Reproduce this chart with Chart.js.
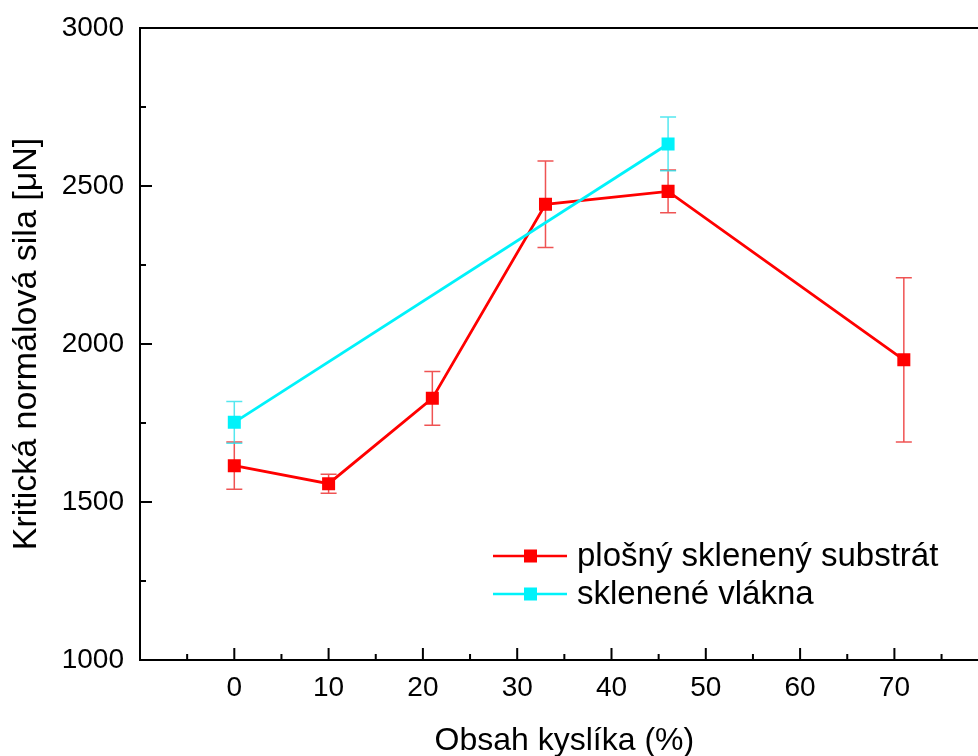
<!DOCTYPE html>
<html>
<head>
<meta charset="utf-8">
<script src="https://cdn.jsdelivr.net/npm/chart.js@4/dist/chart.umd.min.js"></script>
<style>
  html, body { margin: 0; padding: 0; background: #fff; overflow: hidden; }
  #wrap { width: 1000px; height: 756px; }
</style>
</head>
<body>
<div id="wrap"><canvas id="graf" width="1000" height="756"></canvas></div>
<script>
// Údaje odčítané z grafu
const kyslikPlosny = [0, 10, 21, 33, 46, 71];
const silaPlosny = [1615, 1558, 1828, 2442, 2483, 1950];
const chybaPlosny = [75, 30, 85, 137, 68, 260];

const kyslikVlakna = [0, 46];
const silaVlakna = [1752, 2633];
const chybaVlakna = [66, 85];

const nazvy = ['plošný sklenený substrát', 'sklenené vlákna'];
const farby = ['#FF0000', '#00F2FA'];
const farbyChyb = ['rgba(235, 40, 40, 0.8)', 'rgba(40, 225, 235, 0.8)'];

const pismo = "'Liberation Sans', Arial, sans-serif";

function body(xs, ys) {
    return xs.map((x, i) => ({ x: x, y: ys[i] }));
}

// chybové úsečky
const chybovePlugin = {
    id: 'chyby',
    beforeDatasetsDraw(chart) {
        const ctx = chart.ctx;
        const sx = chart.scales.x, sy = chart.scales.y;
        const chyby = [chybaPlosny, chybaVlakna];
        ctx.save();
        chart.data.datasets.forEach((ds, d) => {
            ctx.strokeStyle = farbyChyb[d];
            ctx.lineWidth = 1.5;
            ds.data.forEach((p, i) => {
                const px = sx.getPixelForValue(p.x);
                const top = sy.getPixelForValue(p.y + chyby[d][i]);
                const bot = sy.getPixelForValue(p.y - chyby[d][i]);
                ctx.beginPath();
                ctx.moveTo(px, top); ctx.lineTo(px, bot);
                ctx.moveTo(px - 8, top); ctx.lineTo(px + 8, top);
                ctx.moveTo(px - 8, bot); ctx.lineTo(px + 8, bot);
                ctx.stroke();
            });
        });
        ctx.restore();
    }
};

// rámik a dieliky smerom dovnútra
const ramPlugin = {
    id: 'ram',
    afterDraw(chart) {
        const ctx = chart.ctx;
        const a = chart.chartArea;
        const sx = chart.scales.x, sy = chart.scales.y;
        ctx.save();
        ctx.strokeStyle = '#000';
        ctx.lineWidth = 2;
        ctx.strokeRect(a.left, a.top, a.right - a.left, a.bottom - a.top);
        ctx.beginPath();
        sx.ticks.forEach(t => {
            const px = sx.getPixelForValue(t.value);
            const len = t.value % 10 === 0 ? 12 : 6;
            ctx.moveTo(px, a.bottom); ctx.lineTo(px, a.bottom - len);
        });
        sy.ticks.forEach(t => {
            const py = sy.getPixelForValue(t.value);
            const len = t.value % 500 === 0 ? 12 : 6;
            ctx.moveTo(a.left, py); ctx.lineTo(a.left + len, py);
        });
        ctx.stroke();
        ctx.restore();
    }
};

// legenda vo vnútri grafu
const legendaPlugin = {
    id: 'legenda',
    afterDatasetsDraw(chart) {
        const ctx = chart.ctx;
        const a = chart.chartArea;
        const x0 = a.left + 353, y0 = a.bottom - 104;
        ctx.save();
        ctx.font = '33px ' + pismo;
        ctx.textBaseline = 'middle';
        nazvy.forEach((n, i) => {
            const y = y0 + i * 38;
            ctx.strokeStyle = farby[i];
            ctx.lineWidth = 2.5;
            ctx.beginPath();
            ctx.moveTo(x0, y); ctx.lineTo(x0 + 74, y);
            ctx.stroke();
            ctx.fillStyle = farby[i];
            ctx.fillRect(x0 + 31, y - 6.5, 13, 13);
            ctx.fillStyle = '#000';
            ctx.fillText(n, x0 + 84, y + 1);
        });
        ctx.restore();
    }
};

new Chart(document.getElementById('graf').getContext('2d'), {
    type: 'line',
    data: {
        datasets: [{
            label: nazvy[0],
            data: body(kyslikPlosny, silaPlosny),
            borderColor: farby[0],
            backgroundColor: farby[0],
            borderWidth: 2.8,
            pointStyle: 'rect',
            pointRadius: 9.2,
            pointBorderWidth: 0,
            order: 1
        }, {
            label: nazvy[1],
            data: body(kyslikVlakna, silaVlakna),
            borderColor: farby[1],
            backgroundColor: farby[1],
            borderWidth: 2.8,
            pointStyle: 'rect',
            pointRadius: 9.2,
            pointBorderWidth: 0,
            order: 0
        }]
    },
    options: {
        responsive: false,
        animation: false,
        layout: { padding: { top: 28, right: 11.3, left: 0, bottom: 0 } },
        plugins: {
            legend: { display: false },
            tooltip: { enabled: false }
        },
        scales: {
            x: {
                type: 'linear',
                min: -10,
                max: 80,
                grid: { display: false },
                border: { display: false },
                afterFit: s => { s.height = 96; },
                ticks: {
                    stepSize: 5,
                    autoSkip: false,
                    maxRotation: 0,
                    padding: 3,
                    color: '#000',
                    font: { size: 28, family: pismo },
                    callback: v => (v >= 0 && v <= 70 && v % 10 === 0) ? v : ''
                },
                title: {
                    display: true,
                    text: 'Obsah kyslíka (%)',
                    color: '#000',
                    font: { size: 32, family: pismo },
                    padding: { top: 0, bottom: -4 }
                }
            },
            y: {
                min: 1000,
                max: 3000,
                grid: { display: false },
                border: { display: false },
                afterFit: s => { s.width = 140; },
                ticks: {
                    stepSize: 250,
                    autoSkip: false,
                    padding: 8,
                    color: '#000',
                    font: { size: 28, family: pismo },
                    callback: v => v % 500 === 0 ? v : ''
                },
                title: {
                    display: true,
                    text: 'Kritická normálová sila [μN]',
                    color: '#000',
                    font: { size: 34, family: pismo },
                    padding: { top: 6, bottom: 0 }
                }
            }
        }
    },
    plugins: [chybovePlugin, ramPlugin, legendaPlugin]
});
</script>
</body>
</html>
